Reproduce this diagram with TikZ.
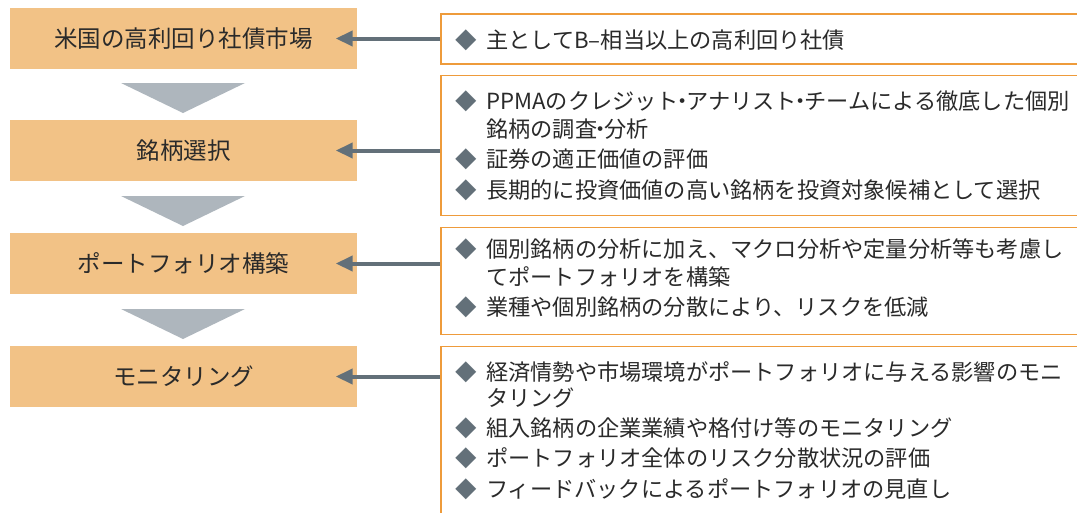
\documentclass[tikz,border=0pt]{standalone}
\usepackage{fontspec}
\setmainfont{Noto Sans CJK JP}
\usetikzlibrary{arrows.meta}
\definecolor{boxfill}{HTML}{F2C286}
\definecolor{tri}{HTML}{AEB6BD}
\definecolor{arr}{HTML}{637079}
\definecolor{obord}{HTML}{EE9B3B}
\definecolor{txt}{HTML}{2A2A2A}
\newcommand\nkdot{\makebox[0.34em]{・}}
\tikzset{
  stepbox/.style={fill=boxfill, minimum width=347pt, minimum height=61pt, inner sep=0pt, text=txt, font=\fontsize{23.5}{28}\selectfont},
  infobox/.style={draw=obord, line width=1.5pt, fill=white, anchor=north west, minimum width=680pt, inner sep=0pt},
  tribox/.style={fill=tri},
  conn/.style={draw=arr, line width=4pt, -{Triangle[length=17pt,width=15pt]}, shorten >=-21.5pt},
  bul/.style={anchor=base west, inner sep=0pt, text=arr, font=\fontsize{21.5}{26}\selectfont},
  itm/.style={anchor=base west, inner sep=0pt, text=txt, font=\fontsize{22.2}{26}\selectfont},
}
\begin{document}
\begin{tikzpicture}[x=1pt,y=-1pt]
\useasboundingbox (0,0) rectangle (1077,512);
\clip (0,0) rectangle (1077,512);
\fill[white] (0,0) rectangle (1077,512);
% left steps
\node[stepbox] (s1) at (183.5,38.5) {米国の高利回り社債市場};
\node[stepbox] (s2) at (183.5,150.5) {銘柄選択};
\node[stepbox] (s3) at (183.5,263.5) {ポートフォリオ構築};
\node[stepbox] (s4) at (183.5,376.5) {モニタリング};
% triangles
\fill[tribox] (121,83) -- (245,83) -- (183,113) -- cycle;
\fill[tribox] (121,196) -- (245,196) -- (183,226) -- cycle;
\fill[tribox] (121,309) -- (245,309) -- (183,339) -- cycle;
% right boxes
\node[infobox, minimum height=50pt] (r1) at (440,13) {};
\node[infobox, minimum height=140pt] (r2) at (440,74.5) {};
\node[infobox, minimum height=107pt] (r3) at (440,226.5) {};
\node[infobox, minimum height=200pt] (r4) at (440,345.5) {};
% connectors
\coordinate (c1) at (r1.west |- s1.east);
\coordinate (c2) at (r2.west |- s2.east);
\coordinate (c3) at (r3.west |- s3.east);
\coordinate (c4) at (r4.west |- s4.east);
\draw[conn] (c1) -- (s1.east);
\draw[conn] (c2) -- (s2.east);
\draw[conn] (c3) -- (s3.east);
\draw[conn] (c4) -- (s4.east);
% box 1 text
\node[bul] (b11) at (455,48) {◆};
\node[itm] (t11) at (486,48) {主としてB–相当以上の高利回り社債};
% box 2 text
\node[bul] (b21) at (455,109) {◆};
\node[itm] (t21) at (486,109) {PPMAのクレジット\nkdot アナリスト\nkdot チームによる徹底した個別};
\node[itm] (t21b) at (486,137) {銘柄の調査\nkdot 分析};
\node[bul] (b22) at (455,167) {◆};
\node[itm] (t22) at (486,167) {証券の適正価値の評価};
\node[bul] (b23) at (455,198) {◆};
\node[itm] (t23) at (486,198) {長期的に投資価値の高い銘柄を投資対象候補として選択};
% box 3 text
\node[bul] (b31) at (455,257) {◆};
\node[itm] (t31) at (486,257) {個別銘柄の分析に加え、マクロ分析や定量分析等も考慮し};
\node[itm] (t31b) at (486,285) {てポートフォリオを構築};
\node[bul] (b32) at (455,315) {◆};
\node[itm] (t32) at (486,315) {業種や個別銘柄の分散により、リスクを低減};
% box 4 text
\node[bul] (b41) at (455,380) {◆};
\node[itm] (t41) at (486,380) {経済情勢や市場環境がポートフォリオに与える影響のモニ};
\node[itm] (t41b) at (486,406) {タリング};
\node[bul] (b42) at (455,436) {◆};
\node[itm] (t42) at (486,436) {組入銘柄の企業業績や格付け等のモニタリング};
\node[bul] (b43) at (455,466) {◆};
\node[itm] (t43) at (486,466) {ポートフォリオ全体のリスク分散状況の評価};
\node[bul] (b44) at (455,497) {◆};
\node[itm] (t44) at (486,497) {フィードバックによるポートフォリオの見直し};
\end{tikzpicture}
\end{document}
